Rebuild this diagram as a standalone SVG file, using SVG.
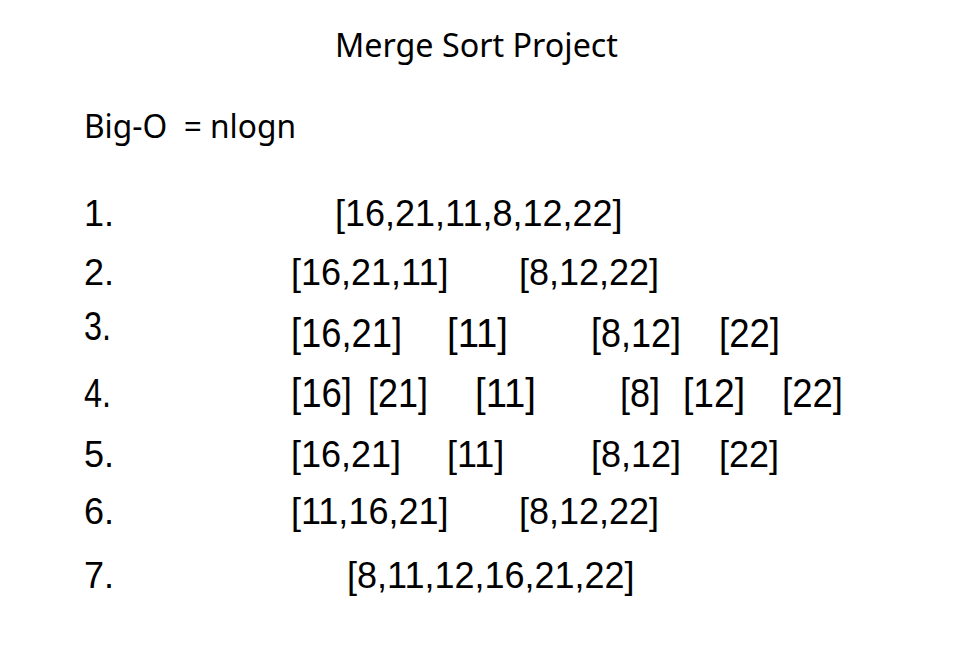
<svg xmlns="http://www.w3.org/2000/svg" width="962" height="670" viewBox="0 0 962 670">
  <style>
    .head { font-family: "Noto Sans", "Open Sans", sans-serif; font-size: 32px; fill: #000; }
    .row { font-family: "Liberation Sans", Arial, sans-serif; font-size: 36px; fill: #000; }
    .narrow { font-family: "Liberation Sans", Arial, sans-serif; font-size: 40px; fill: #000; }
  </style>
  <rect width="962" height="670" fill="#fff"/>

  <g id="title">
    <text class="head" x="335" y="57" textLength="283" lengthAdjust="spacingAndGlyphs">Merge Sort Project</text>
  </g>
  <g id="complexity">
    <text class="head" x="84" y="138" textLength="212" lengthAdjust="spacingAndGlyphs" xml:space="preserve">Big-O  = nlogn</text>
  </g>

  <!-- split phase -->
  <g id="step1">
    <text class="row" x="84" y="226">1.</text>
    <text class="row" x="335" y="226">[16,21,11,8,12,22]</text>
  </g>
  <g id="step2">
    <text class="row" x="84" y="285">2.</text>
    <text class="row" x="291" y="285">[16,21,11]</text>
    <text class="row" x="519" y="285">[8,12,22]</text>
  </g>
  <g id="step3">
    <text class="narrow" x="84" y="340" textLength="27" lengthAdjust="spacingAndGlyphs">3.</text>
    <text class="narrow" x="291" y="347" textLength="111" lengthAdjust="spacingAndGlyphs">[16,21]</text>
    <text class="narrow" x="447" y="347" textLength="61" lengthAdjust="spacingAndGlyphs">[11]</text>
    <text class="narrow" x="591" y="347" textLength="90" lengthAdjust="spacingAndGlyphs">[8,12]</text>
    <text class="narrow" x="719" y="347" textLength="61" lengthAdjust="spacingAndGlyphs">[22]</text>
  </g>
  <g id="step4">
    <text class="narrow" x="84" y="407" textLength="27" lengthAdjust="spacingAndGlyphs">4.</text>
    <text class="narrow" x="291" y="407" textLength="61" lengthAdjust="spacingAndGlyphs">[16]</text>
    <text class="narrow" x="368" y="407" textLength="60" lengthAdjust="spacingAndGlyphs">[21]</text>
    <text class="narrow" x="475" y="407" textLength="61" lengthAdjust="spacingAndGlyphs">[11]</text>
    <text class="narrow" x="620" y="407" textLength="40" lengthAdjust="spacingAndGlyphs">[8]</text>
    <text class="narrow" x="683" y="407" textLength="62" lengthAdjust="spacingAndGlyphs">[12]</text>
    <text class="narrow" x="782" y="407" textLength="61" lengthAdjust="spacingAndGlyphs">[22]</text>
  </g>

  <!-- merge phase -->
  <g id="step5">
    <text class="row" x="84" y="467">5.</text>
    <text class="row" x="291" y="467">[16,21]</text>
    <text class="row" x="447" y="467">[11]</text>
    <text class="row" x="591" y="467">[8,12]</text>
    <text class="row" x="719" y="467">[22]</text>
  </g>
  <g id="step6">
    <text class="row" x="84" y="524">6.</text>
    <text class="row" x="291" y="524">[11,16,21]</text>
    <text class="row" x="519" y="524">[8,12,22]</text>
  </g>
  <g id="step7">
    <text class="row" x="84" y="588">7.</text>
    <text class="row" x="347" y="588">[8,11,12,16,21,22]</text>
  </g>
</svg>
